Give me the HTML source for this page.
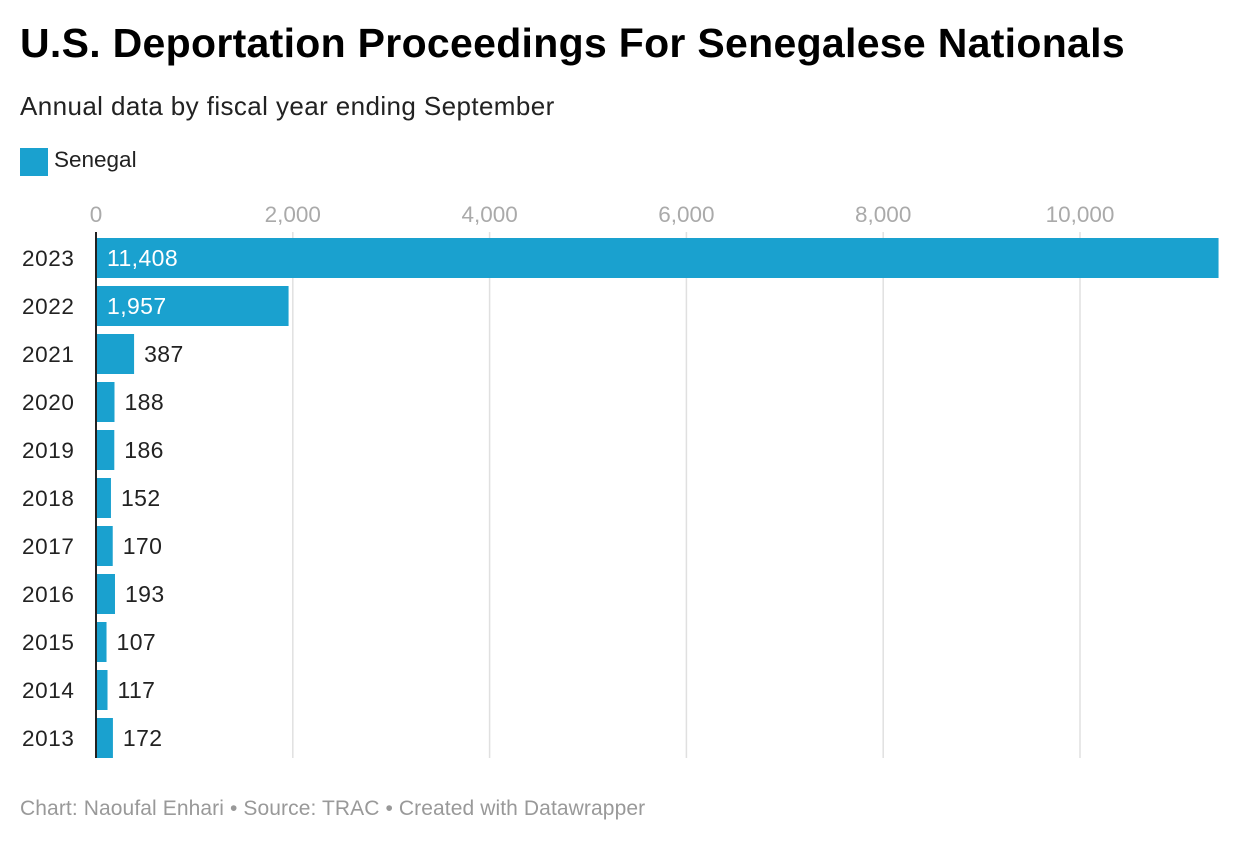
<!DOCTYPE html>
<html><head><meta charset="utf-8"><style>
body{margin:0;width:1240px;height:846px;background:#fff;font-family:"Liberation Sans",Arial,sans-serif;overflow:hidden}
.t{position:absolute;white-space:nowrap}
</style></head><body>
<div class="t" style="left:20px;top:20px;font-size:41px;font-weight:bold;color:#000;letter-spacing:0.3px">U.S. Deportation Proceedings For Senegalese Nationals</div>
<div class="t" style="left:20px;top:91px;font-size:26px;color:#222;letter-spacing:0.4px">Annual data by fiscal year ending September</div>
<div style="position:absolute;left:20px;top:147px;height:30px">
<div style="position:absolute;left:0;top:1px;width:28px;height:28px;background:#1aa1cf"></div>
<div class="t" style="left:34px;top:0px;font-size:22.5px;color:#222">Senegal</div></div>
<svg id="chart" width="1240" height="846" style="position:absolute;left:0;top:0" xmlns="http://www.w3.org/2000/svg"></svg>
<div class="t" style="left:20px;top:797px;font-size:21px;color:#999;letter-spacing:0.1px">Chart: Naoufal Enhari • Source: TRAC • Created with Datawrapper</div>
<script>
const years=["2023","2022","2021","2020","2019","2018","2017","2016","2015","2014","2013"];
const values=[11408,1957,387,188,186,152,170,193,107,117,172];
const ticks=[0,2000,4000,6000,8000,10000];
const tickLabels=["0","2,000","4,000","6,000","8,000","10,000"];
const svg=document.getElementById('chart');const NS="http://www.w3.org/2000/svg";
const x=v=>96+v*0.0984;const y=i=>238+i*48;
function mk(t,a){const e=document.createElementNS(NS,t);for(const k in a)e.setAttribute(k,a[k]);svg.appendChild(e);return e;}
ticks.forEach((t,i)=>{
 if(t>0){const g=mk('line',{x1:x(t),x2:x(t),y1:232,y2:758,stroke:'#e0e0e0','stroke-width':1.5});
 
 }
 const l=mk('text',{x:x(t),y:222,'text-anchor':'middle','font-size':22.5,fill:'#aaa'});l.textContent=tickLabels[i];
 
 
});
years.forEach((yr,i)=>{
 const r=mk('rect',{x:96,y:y(i),width:x(values[i])-96,height:40,fill:'#1aa1cf'});
 
 
 const yl=mk('text',{x:22,y:y(i)+28,'font-size':22.5,fill:'#222','letter-spacing':0.6});yl.textContent=yr;
 
 
 const inside=values[i]>1000;
 const vl=mk('text',{x:inside?107:x(values[i])+10,y:y(i)+28,'font-size':23,fill:inside?'#fff':'#222','letter-spacing':0.4});
 vl.textContent=values[i].toLocaleString('en-US');
 
 
});
const ax=mk('line',{x1:96,x2:96,y1:232,y2:758,stroke:'#222','stroke-width':2});


</script>
</body></html>
